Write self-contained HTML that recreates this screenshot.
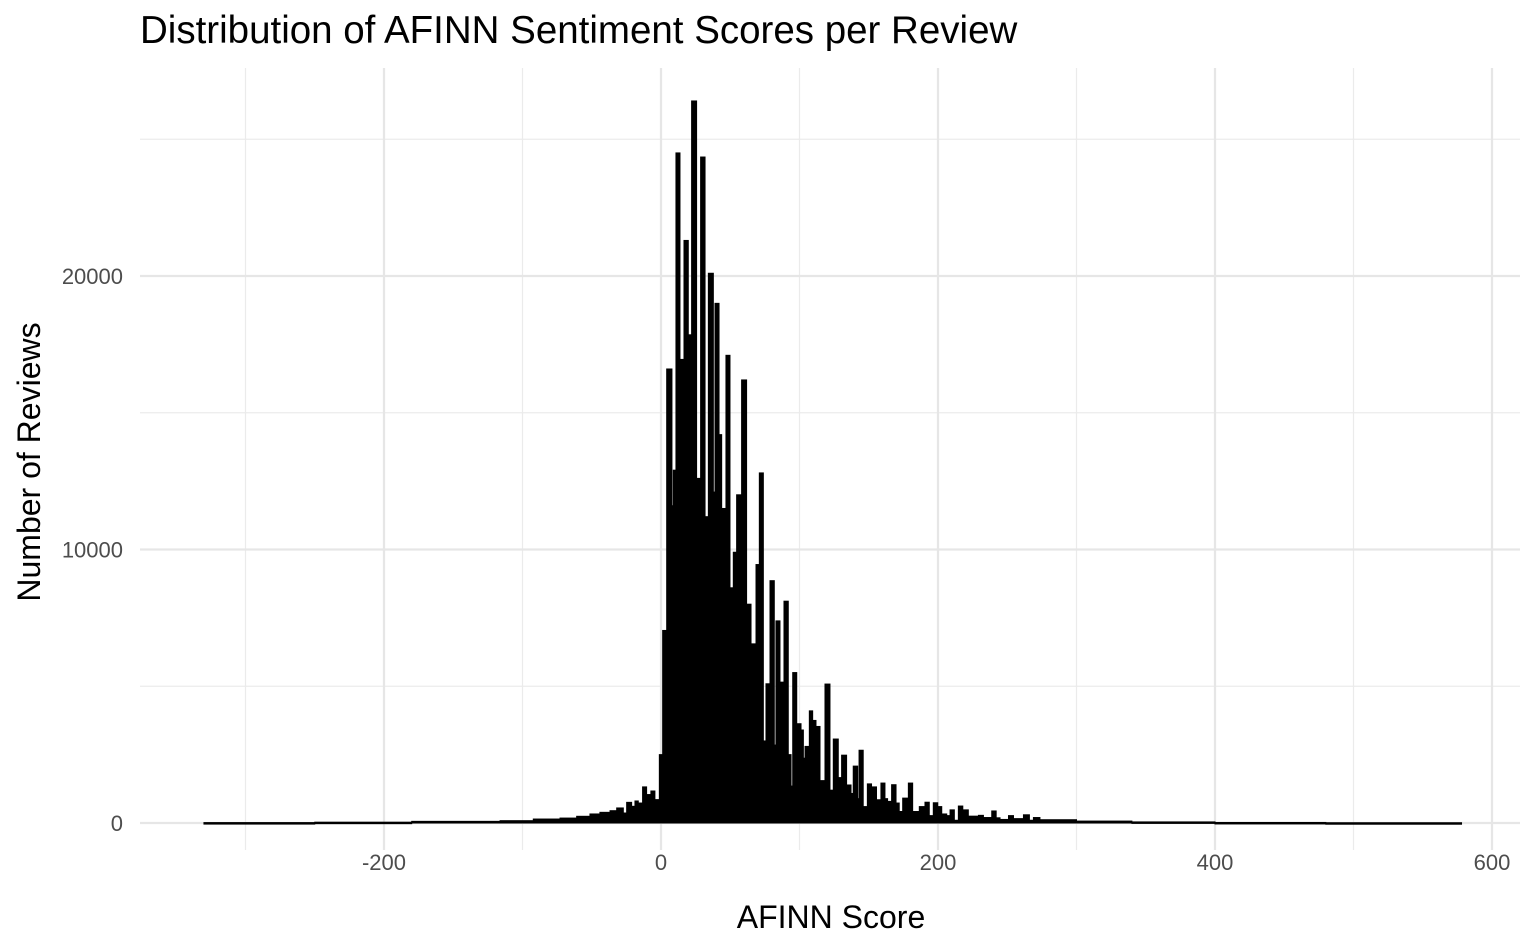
<!DOCTYPE html>
<html><head><meta charset="utf-8"><style>
body{margin:0;background:#fff;}
svg{display:block;font-family:"Liberation Sans",Arial,sans-serif;}
</style></head><body>
<svg id="chart" width="1540" height="951">
<text x="140" y="43" font-size="38.5" fill="#000">Distribution of AFINN Sentiment Scores per Review</text>
<text x="831" y="928" font-size="32" text-anchor="middle" fill="#000">AFINN Score</text>
<text transform="translate(40,462) rotate(-90)" font-size="32" text-anchor="middle" fill="#000">Number of Reviews</text>
<g id="grid"></g><g id="bars"></g><g id="ticks"></g>
</svg>
<script>
const binEdges=[-330,-250,-180,-116.2,-92.2,-72.9,-60.9,-51.3,-44.1,-36.8,-32,-27.2,-24.8,-21.2,-18.8,-16.4,-13.3,-10.4,-7.3,-4.4,-1.2,1.2,4.1,7.9,8.9,10.8,13.7,16.6,19.7,22.1,25.7,28.6,31.8,34.2,37.8,39,41.9,43.8,46.9,49.8,52.2,54.6,58.2,61.8,65,68.6,71,73.9,75.8,78.7,81.8,83,85.9,88.8,91.9,93.9,95.1,98,101.1,102.8,104,107.1,109.5,111.9,114.8,118.4,122,124.4,128,130.4,134,137.2,138.8,142,143,146,149,152,155.6,158.8,161.7,163.6,166.5,169.7,172,174.5,178.6,181.7,186.5,190.6,193.7,196.6,199.8,202.7,206.3,208.7,211.8,214.7,217.9,221.9,229.2,232.8,238.8,242,244.8,250.9,254.5,261.7,266,268.9,273.6,300,340,400,480,578];
const counts=[15,30,60,85,145,180,245,330,390,450,550,365,755,610,805,730,1320,1040,1170,855,2500,7040,16600,11600,12900,24500,16950,21300,17850,26400,12600,24350,11200,20100,12100,19000,14200,11500,17100,8600,9900,12000,16200,8000,6550,9450,12800,3000,5090,8860,2850,7390,5150,8110,2500,1350,5500,3630,3400,2370,2800,4100,3750,3530,1550,5080,1200,3070,1660,2480,1390,1080,2080,890,2660,600,1430,1320,850,1460,890,790,1400,730,420,910,1460,420,600,760,270,740,600,330,270,480,100,620,480,250,280,200,440,190,130,270,160,300,100,200,120,70,40,20,10];
const xTicks=[-200,0,200,400,600];
const yTicks=[0,10000,20000];
const xMinor=[-300,-100,100,300,500];
const yMinor=[5000,15000,25000];
const NS="http://www.w3.org/2000/svg";
const xs=v=>661+(v)*1.385;
const ys=v=>823-v*0.02735;
const L=140,R=1520,T=68,B=850;
function mk(tag,attrs,parent){const e=document.createElementNS(NS,tag);for(const k in attrs)e.setAttribute(k,attrs[k]);parent.appendChild(e);return e;}
const grid=document.getElementById('grid'),bars=document.getElementById('bars'),tk=document.getElementById('ticks');
xMinor.forEach(v=>{const l=mk('line',{x1:xs(v),x2:xs(v),y1:T,y2:B,stroke:'#ebebeb','stroke-width':1.2},grid);

});
yMinor.forEach(v=>{const l=mk('line',{x1:L,x2:R,y1:ys(v),y2:ys(v),stroke:'#ebebeb','stroke-width':1.2},grid);

});
xTicks.forEach(v=>{const l=mk('line',{x1:xs(v),x2:xs(v),y1:T,y2:B,stroke:'#e6e6e6','stroke-width':2.2},grid);


const t=mk('text',{x:xs(v),y:870,'font-size':22,fill:'#4d4d4d','text-anchor':'middle'},tk);t.textContent=v;

});
yTicks.forEach(v=>{const l=mk('line',{x1:L,x2:R,y1:ys(v),y2:ys(v),stroke:'#e6e6e6','stroke-width':2.2},grid);


const t=mk('text',{x:123,y:ys(v)+8,'font-size':22,fill:'#4d4d4d','text-anchor':'end'},tk);t.textContent=v;

});
counts.forEach((c,i)=>{const x0=xs(binEdges[i]),x1=xs(binEdges[i+1]);
const r=mk('rect',{x:x0,y:ys(c),width:Math.max(x1-x0,0.5),height:Math.max(ys(0)-ys(c),1.5),fill:'#000',stroke:'#000','stroke-width':1},bars);

});
</script>
</body></html>
